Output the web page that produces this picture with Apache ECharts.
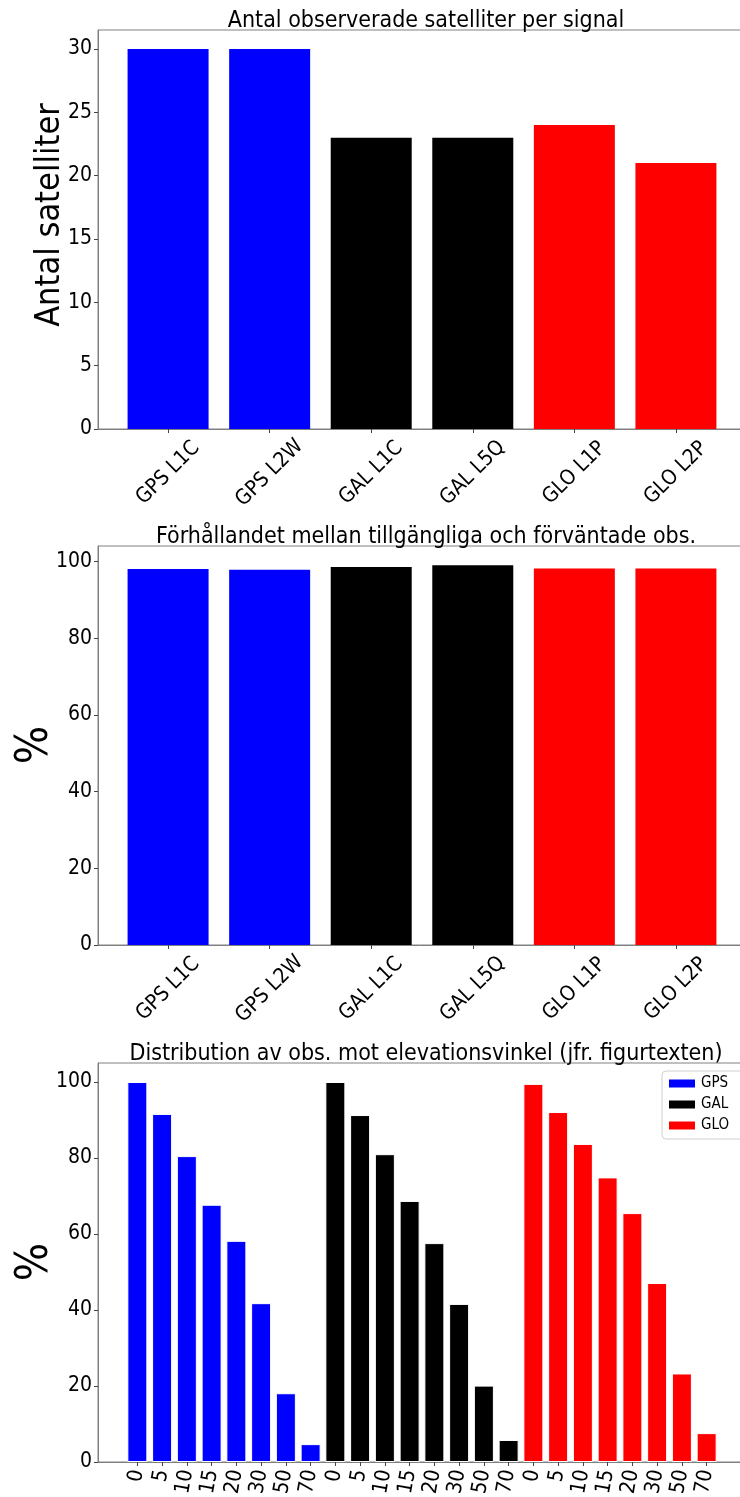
<!DOCTYPE html>
<html>
<head>
<meta charset="utf-8">
<script src="https://cdn.jsdelivr.net/npm/echarts@6/dist/echarts.min.js"></script>
<style>
  html, body { margin: 0; padding: 0; background: #fff; }
  #main { width: 740px; height: 1497px; }
</style>
</head>
<body>
<div id="main"></div>
<script>
  // data
  var signals = ['GPS L1C', 'GPS L2W', 'GAL L1C', 'GAL L5Q', 'GLO L1P', 'GLO L2P']
  var signalColors = ['#0000ff', '#0000ff', '#000000', '#000000', '#ff0000', '#ff0000']
  var satCount = [30, 30, 23, 23, 24, 21]
  var obsRatio = [98.1, 97.9, 98.6, 99.1, 98.2, 98.2]
  var elevations = ['0', '5', '10', '15', '20', '30', '50', '70']
  var gpsDist = [100, 91.6, 80.5, 67.7, 58.2, 41.8, 18.1, 4.7]
  var galDist = [100, 91.3, 81.0, 68.7, 57.6, 41.6, 20.1, 5.8]
  var gloDist = [99.5, 92.1, 83.7, 74.9, 65.5, 47.1, 23.3, 7.6]
  var satTicks = [0, 5, 10, 15, 20, 25, 30]
  var pctTicks = [0, 20, 40, 60, 80, 100]

  var font = '"DejaVu Sans Condensed", "DejaVu Sans", sans-serif'
  var spine = '#808080'

  var signalIdx = signals.map(function (s, i) { return i })
  var elevIdx = []
  for (var g = 0; g < 3; g++) {
    for (var k = 0; k < elevations.length; k++) elevIdx.push(g * elevations.length + k)
  }

  function grid (top) {
    return {
      left: 98, right: -6, top: top, height: 399, outerBoundsMode: 'none',
      show: true, borderColor: spine, borderWidth: 1
    }
  }

  function xAxis (idx, min, max, ticks, fmt, rotate, centered) {
    var label = {
      customValues: ticks,
      formatter: fmt,
      rotate: rotate,
      fontSize: 21,
      fontFamily: font,
      color: '#000',
      margin: centered ? 44 : 8
    }
    if (centered) { label.align = 'center'; label.verticalAlign = 'middle' }
    return {
      type: 'value', gridIndex: idx, min: min, max: max,
      axisLine: { show: true, lineStyle: { color: spine } },
      axisTick: { show: true, customValues: ticks, length: 4, lineStyle: { color: '#444' } },
      axisLabel: label,
      splitLine: { show: false }
    }
  }

  function yAxis (idx, max, ticks) {
    return {
      type: 'value', gridIndex: idx, min: 0, max: max,
      axisLine: { show: true, onZero: false, lineStyle: { color: spine } },
      axisTick: { show: true, customValues: ticks, length: 4, lineStyle: { color: '#444' } },
      axisLabel: { customValues: ticks, fontSize: 21, fontFamily: font, color: '#000', margin: 6 },
      splitLine: { show: false }
    }
  }

  // rotated y-axis titles, like matplotlib's ylabel
  function yLabel (text, size, x, y) {
    return {
      type: 'text', x: x, y: y, rotation: Math.PI / 2,
      style: { text: text, fontSize: size, fontFamily: font, fill: '#000', align: 'center', verticalAlign: 'middle' }
    }
  }

  function signalBars (vals) {
    return vals.map(function (v, i) {
      return { value: [i, v], itemStyle: { color: signalColors[i] } }
    })
  }

  function distBars (vals, offset) {
    return vals.map(function (v, i) { return [i + offset, v] })
  }

  var titleStyle = { fontSize: 23, fontWeight: 'normal', fontFamily: font, color: '#000' }
  var n = elevations.length
  var myChart = echarts.init(document.getElementById('main'))
  myChart.setOption({
    animation: false,
    textStyle: { fontFamily: font },
    title: [
      { text: 'Antal observerade satelliter per signal', left: 421, top: 5, textAlign: 'center', textStyle: titleStyle },
      { text: 'Förhållandet mellan tillgängliga och förväntade obs.', left: 421, top: 521, textAlign: 'center', textStyle: titleStyle },
      { text: 'Distribution av obs. mot elevationsvinkel (jfr. figurtexten)', left: 421, top: 1038, textAlign: 'center', textStyle: titleStyle }
    ],
    graphic: [
      yLabel('Antal satelliter', 34, 50, 215),
      yLabel('%', 45, 35, 745),
      yLabel('%', 45, 35, 1262)
    ],
    legend: {
      data: ['GPS', 'GAL', 'GLO'],
      orient: 'vertical',
      left: 662,
      top: 1071,
      padding: [4, 40, 5, 5],
      itemWidth: 28,
      itemHeight: 10,
      itemGap: 4,
      icon: 'rect',
      borderColor: '#d0d0d0',
      borderWidth: 1,
      borderRadius: 4,
      backgroundColor: '#fff',
      textStyle: { fontSize: 15, lineHeight: 17, fontFamily: font, color: '#000' }
    },
    grid: [grid(30), grid(546), grid(1063)],
    xAxis: [
      xAxis(0, -0.69, 5.69, signalIdx, function (v) { return signals[v] }, 45, true),
      xAxis(1, -0.69, 5.69, signalIdx, function (v) { return signals[v] }, 45, true),
      xAxis(2, -1.59, 24.59, elevIdx, function (v) { return elevations[v % n] }, 80, false)
    ],
    yAxis: [
      yAxis(0, 31.5, satTicks),
      yAxis(1, 104.1, pctTicks),
      yAxis(2, 105, pctTicks)
    ],
    series: [
      { type: 'bar', xAxisIndex: 0, yAxisIndex: 0, barWidth: 81, data: signalBars(satCount) },
      { type: 'bar', xAxisIndex: 1, yAxisIndex: 1, barWidth: 81, data: signalBars(obsRatio) },
      { name: 'GPS', type: 'bar', xAxisIndex: 2, yAxisIndex: 2, stack: 'dist', barWidth: 20,
        color: '#0000ff', itemStyle: { borderColor: '#fff', borderWidth: 1 }, data: distBars(gpsDist, 0) },
      { name: 'GAL', type: 'bar', xAxisIndex: 2, yAxisIndex: 2, stack: 'dist', barWidth: 20,
        color: '#000000', itemStyle: { borderColor: '#fff', borderWidth: 1 }, data: distBars(galDist, n) },
      { name: 'GLO', type: 'bar', xAxisIndex: 2, yAxisIndex: 2, stack: 'dist', barWidth: 20,
        color: '#ff0000', itemStyle: { borderColor: '#fff', borderWidth: 1 }, data: distBars(gloDist, 2 * n) }
    ]
  })
</script>
</body>
</html>
